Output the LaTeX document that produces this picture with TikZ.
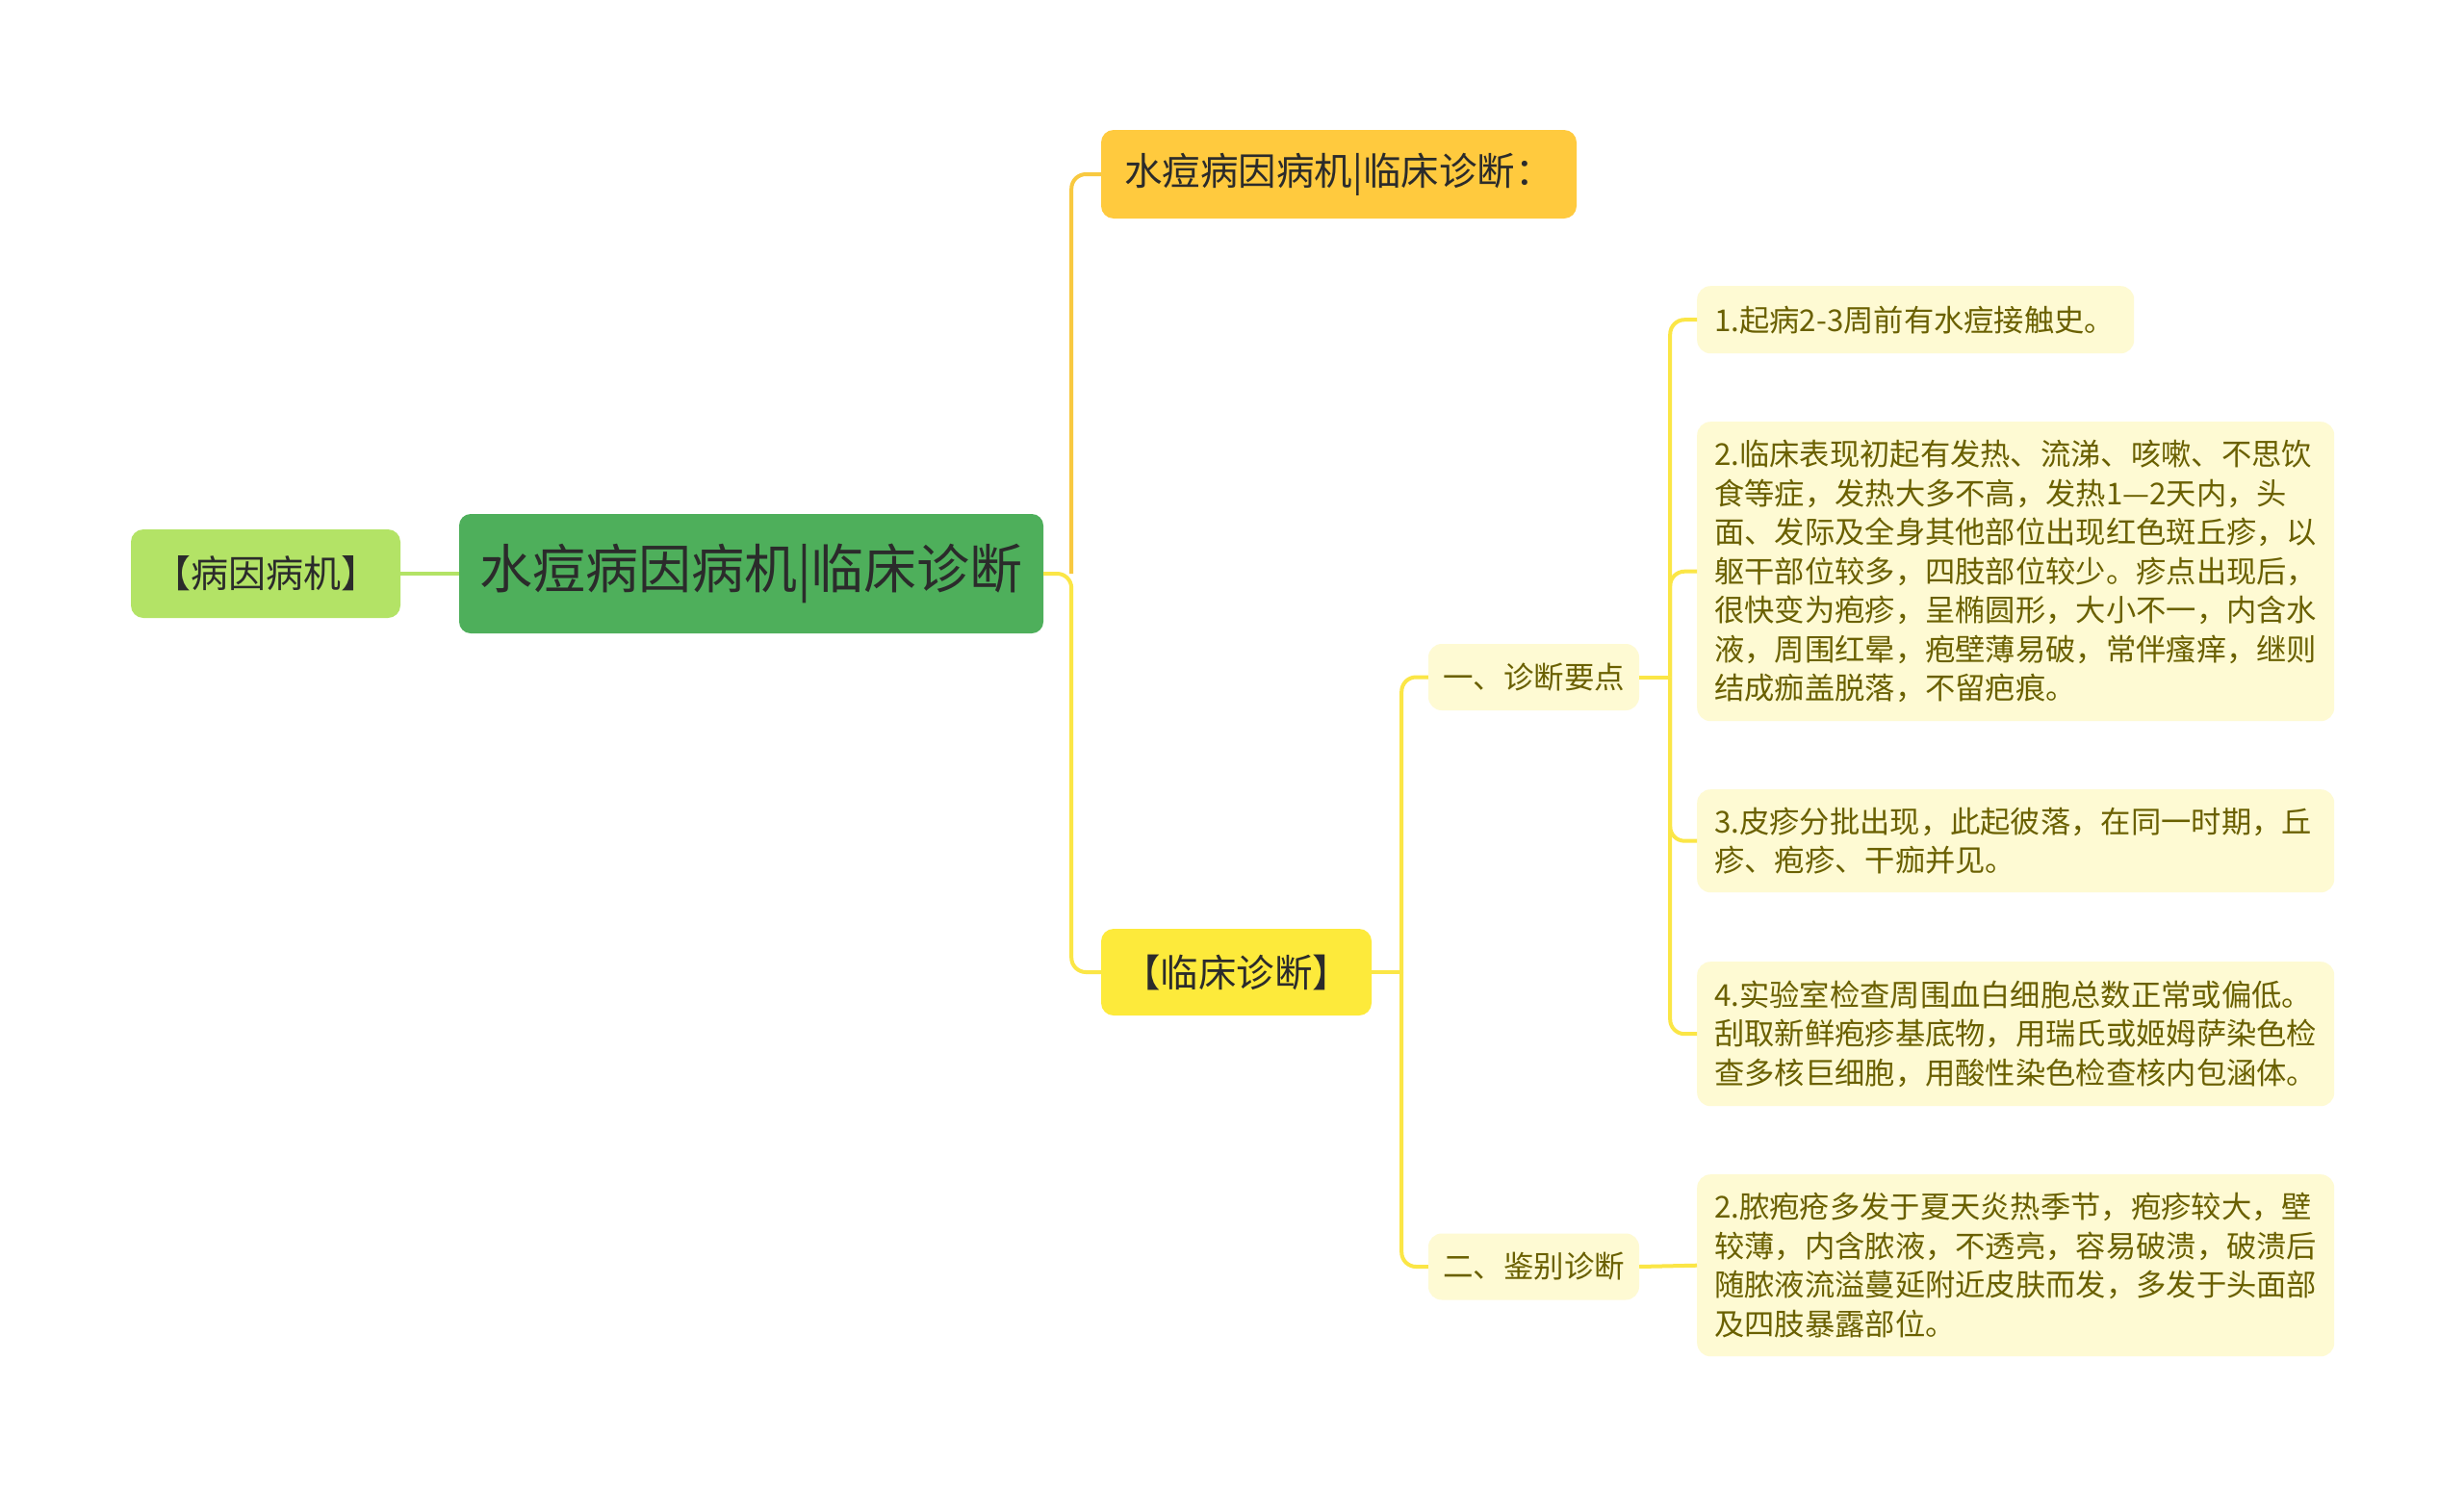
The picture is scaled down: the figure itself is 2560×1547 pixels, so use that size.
\documentclass[tikz,border=0pt]{standalone}
\usepackage{fontspec}
\setmainfont{Noto Sans CJK SC}
\definecolor{cleft}{HTML}{B3E366}
\definecolor{croot}{HTML}{4EAF5B}
\definecolor{ctop}{HTML}{FFCA3E}
\definecolor{cclin}{HTML}{FDEA3B}
\definecolor{cleaf}{HTML}{FEFAD3}
\definecolor{tleaf}{HTML}{6A6000}
\definecolor{tdark}{HTML}{2B2B2B}
\definecolor{lorange}{HTML}{F8C940}
\definecolor{lyellow}{HTML}{FBE646}
\definecolor{lgreen}{HTML}{B3E366}
\tikzset{
  box/.style={rounded corners=13pt, inner sep=0pt, align=center},
  leafbox/.style={fill=cleaf, rounded corners=14pt, inner xsep=18pt, inner ysep=0pt, align=left, text=tleaf,
     font=\fontsize{31.3}{40.5}\selectfont, anchor=north west},
  subbox/.style={fill=cleaf, rounded corners=14pt, inner sep=0pt, text=tleaf,
     font=\fontsize{31.5}{38}\selectfont, minimum width=219pt, minimum height=69pt},
  conn/.style={line width=4pt, lyellow, rounded corners=15pt},
}
\begin{document}
\begin{tikzpicture}[x=1pt,y=-1pt]
\useasboundingbox (0,0) rectangle (2560,1547);
\fill[white] (0,0) rectangle (2560,1547);

% main nodes
\node[box, fill=cleft, text=tdark, font=\fontsize{39}{44}\selectfont, minimum width=280pt, minimum height=92pt] (left) at (276,596) {【病因病机】};
\node[box, fill=croot, text=tdark, font=\fontsize{55}{60}\selectfont, minimum width=607pt, minimum height=124pt, rounded corners=12pt] (root) at (780.5,596) {水痘病因病机|临床诊断};
\node[box, fill=ctop, text=tdark, font=\fontsize{39.5}{44}\selectfont, minimum width=494pt, minimum height=92pt] (top) at (1391,181) {水痘病因病机|临床诊断：};
\node[box, fill=cclin, text=tdark, font=\fontsize{39.5}{44}\selectfont, minimum width=281pt, minimum height=90pt] (clin) at (1284.5,1010) {【临床诊断】};

% sub nodes
\node[subbox] (s1) at (1593.5,703.5) {一、诊断要点};
\node[subbox] (s2) at (1593.5,1316) {二、鉴别诊断};

% leaves
\node[leafbox, text width=418pt, minimum height=70pt] (l1) at (1763,297) {1.起病2-3周前有水痘接触史。};
\node[leafbox, text width=626pt, minimum height=311pt] (l2) at (1763,438) {2.临床表现初起有发热、流涕、咳嗽、不思饮\\食等症，发热大多不高，发热1—2天内，头\\面、发际及全身其他部位出现红色斑丘疹，以\\躯干部位较多，四肢部位较少。疹点出现后，\\很快变为疱疹，呈椭圆形，大小不一，内含水\\液，周围红晕，疱壁薄易破，常伴瘙痒，继则\\结成痂盖脱落，不留疤痕。};
\node[leafbox, text width=626pt, minimum height=107pt] (l3) at (1763,820) {3.皮疹分批出现，此起彼落，在同一时期，丘\\疹、疱疹、干痂并见。};
\node[leafbox, text width=626pt, minimum height=150pt] (l4) at (1763,999) {4.实验室检查周围血白细胞总数正常或偏低。\\刮取新鲜疱疹基底物，用瑞氏或姬姆萨染色检\\查多核巨细胞，用酸性染色检查核内包涵体。};
\node[leafbox, text width=626pt, minimum height=189pt] (l5) at (1763,1220) {2.脓疱疮多发于夏天炎热季节，疱疹较大，壁\\较薄，内含脓液，不透亮，容易破溃，破溃后\\随脓液流溢蔓延附近皮肤而发，多发于头面部\\及四肢暴露部位。};

% connectors
\draw[line width=4pt, lgreen] (left.east) -- (root.west);
\coordinate (j1) at ([xshift=29pt]root.east);
\draw[conn, lorange] (j1) |- (top.west);
\draw[conn] (root.east) -- (j1) |- (clin.west);

\coordinate (j2) at ([xshift=31pt]clin.east);
\draw[conn] (clin.east) -- (j2);
\draw[conn] (j2) |- (s1.west);
\draw[conn] (j2) |- (s2.west);

\coordinate (j3) at ([xshift=32pt]s1.east);
\draw[conn] (s1.east) -- (j3);
\draw[conn] (j3) |- (l1.west);
\draw[conn] (j3) |- (l4.west);
\draw[conn] (j3) |- (l2.west);
\draw[conn] (j3) |- (l3.west);

\draw[conn] (s2.east) -- (l5.west);
\end{tikzpicture}
\end{document}
